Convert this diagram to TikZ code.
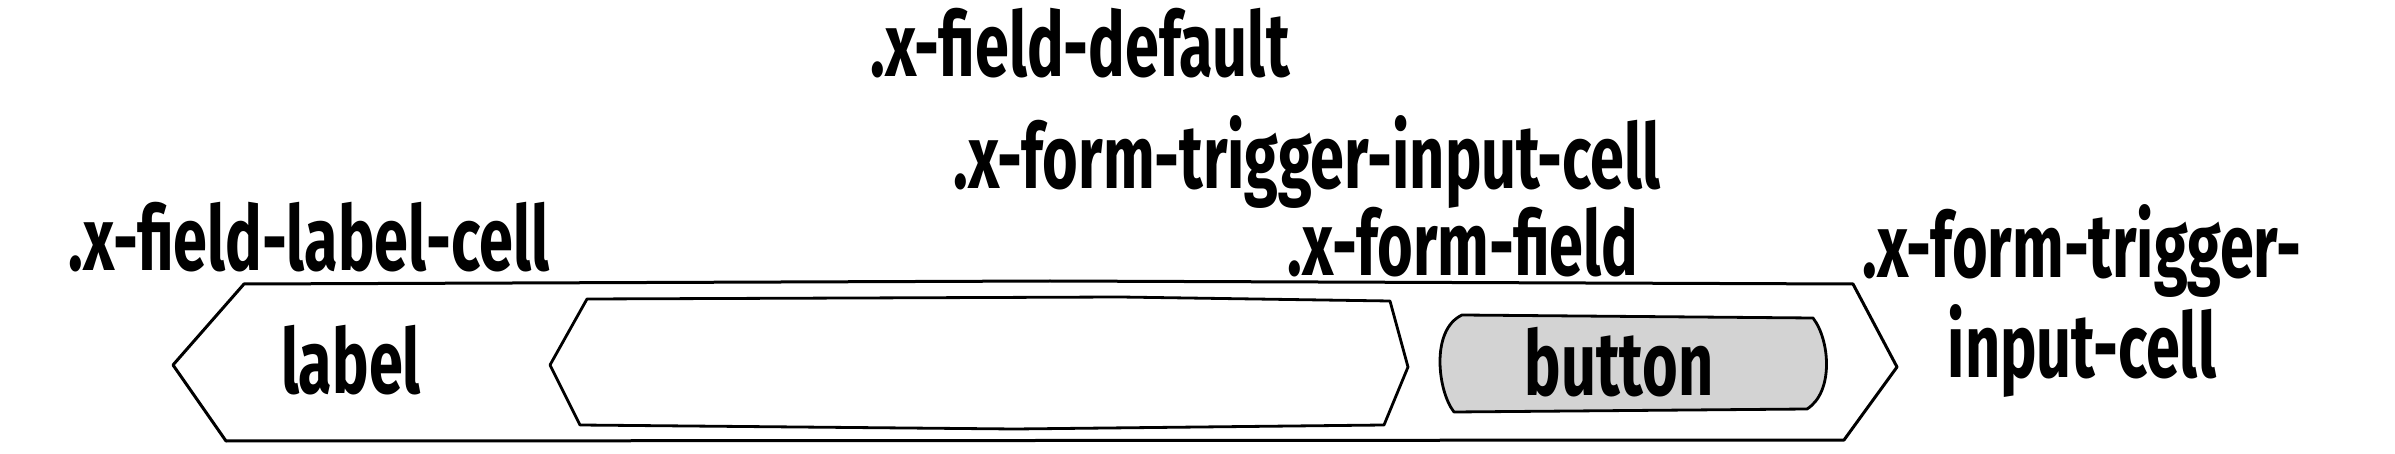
\documentclass[tikz,border=0pt]{standalone}
\usepackage{fontspec}
\setmainfont{Fira Sans}[FakeStretch=0.68]
\usepackage{tikz}
\usetikzlibrary{positioning, calc}
\usepackage{xcolor}
\definecolor{xfInk}{HTML}{000000}
\definecolor{xfButton}{HTML}{D3D3D3}

\begin{document}
\begin{tikzpicture}[
        x=0.5pt, y=-0.5pt,
        cls/.style={
          font=\fontsize{45}{50}\selectfont\bfseries,
          text=xfInk, align=center, inner sep=0pt
        },
        cellline/.style={draw=xfInk, line width=1.5pt, line join=round},
        fieldline/.style={draw=xfInk, line width=1.4pt, line join=round, fill=white},
        btnline/.style={draw=xfInk, line width=1.4pt, line join=round, fill=xfButton}
      ]
      \useasboundingbox (0,0) rectangle (2395,454);

      % Celda exterior
      \draw[cellline] (173,365) -- (244,284) -- (1050,281) -- (1853,284)
        -- (1897,367) -- (1844,440) -- (226,441) -- cycle;

      % Campo de entrada
      \draw[fieldline] (550,365) -- (587,299) -- (1120,297) -- (1390,301)
        -- (1408,367) -- (1384,425) -- (1015,429) -- (580,425) -- cycle;

      % Boton
      \draw[btnline] (1462,315) -- (1813,318)
        .. controls (1830,340) and (1834,392) .. (1807,409)
        -- (1454,412)
        .. controls (1438,392) and (1430,330) .. (1462,315) -- cycle;

      % Textos
      \node[cls] (fielddefault) at (1080,43)  {.x-field-default};
      \node[cls] (triggerinput) at (1307,162) {.x-form-trigger-input-cell};
      \node[cls] (formfield)    at (1463,242) {.x-form-field};
      \node[cls] (labelcell)    at (309,237)  {.x-field-label-cell};
      \node[cls] (triggercell)  at (2082,301) {.x-form-trigger-\\input-cell};
      \node[cls] (labeltext)    at (351,360)  {label};
      \node[cls] (buttontext)   at (1619,362) {button};

    \end{tikzpicture}
\end{document}
